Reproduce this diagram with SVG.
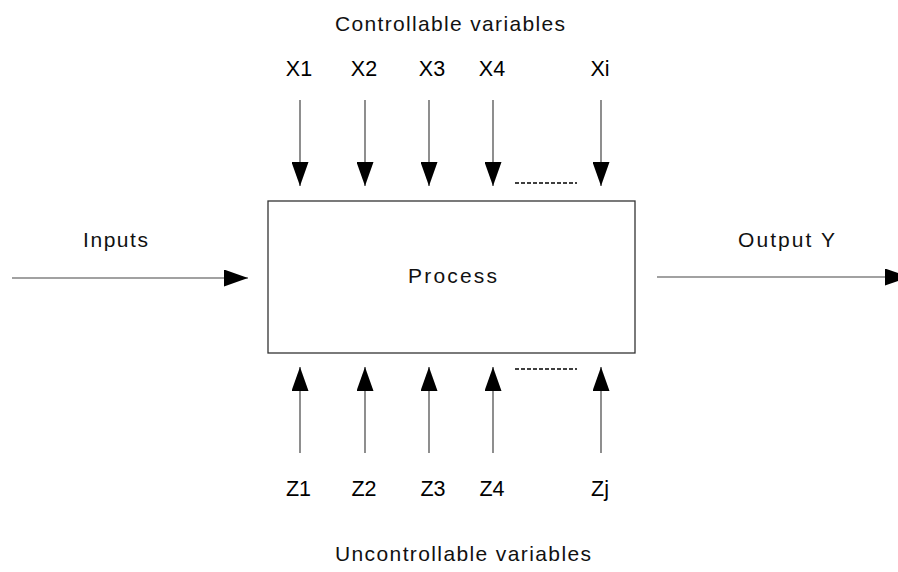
<svg xmlns="http://www.w3.org/2000/svg" width="898" height="572" viewBox="0 0 898 572">
  <style>
    .bg { fill: #ffffff; }
    .box { fill: #ffffff; stroke: #333333; stroke-width: 1.3; }
    .wire { stroke: #444444; stroke-width: 1.2; fill: none; }
    .dots { stroke: #000000; stroke-width: 1.5; stroke-dasharray: 4 2; fill: none; }
    .lbl { font-family: "Liberation Sans", Arial, sans-serif; font-size: 21.5px; fill: #000000; }
    .soft { font-family: "Liberation Sans", Arial, sans-serif; font-size: 21px; fill: #111111; }
    .mid { text-anchor: middle; }
  </style>
  <defs>
    <marker id="head" markerUnits="userSpaceOnUse" markerWidth="25" markerHeight="17" refX="24" refY="8.5" orient="auto" viewBox="0 0 25 17">
      <path d="M0,0 L24,8.5 L0,17 Z" fill="#000000"/>
    </marker>
  </defs>
  <rect class="bg" x="0" y="0" width="898" height="572"/>

  <!-- process block -->
  <g id="process">
    <rect class="box" x="268" y="201" width="367" height="152"/>
    <text class="soft" x="408" y="283" textLength="89" lengthAdjust="spacing">Process</text>
  </g>

  <g id="controllable">
    <text class="soft" x="335" y="31" textLength="230" lengthAdjust="spacing">Controllable variables</text>
    <text class="lbl mid" x="299" y="76">X1</text>
    <text class="lbl mid" x="364" y="76">X2</text>
    <text class="lbl mid" x="432" y="76">X3</text>
    <text class="lbl mid" x="492" y="76">X4</text>
    <text class="lbl mid" x="600" y="76">Xi</text>
  </g>

  <g id="uncontrollable">
    <text class="lbl mid" x="298.5" y="496">Z1</text>
    <text class="lbl mid" x="364" y="496">Z2</text>
    <text class="lbl mid" x="433" y="496">Z3</text>
    <text class="lbl mid" x="492" y="496">Z4</text>
    <text class="lbl mid" x="600" y="496">Zj</text>
    <text class="soft" x="335" y="561" textLength="256" lengthAdjust="spacing">Uncontrollable variables</text>
  </g>

  <g id="inputs">
    <text class="soft" x="83" y="247" textLength="65" lengthAdjust="spacing">Inputs</text>
  </g>

  <g id="output">
    <text class="soft" x="738" y="247" textLength="97" lengthAdjust="spacing">Output Y</text>
  </g>

  <!-- connectors -->
  <g id="connectors">
    <line class="wire" x1="12" y1="278" x2="248" y2="278" marker-end="url(#head)"/>
    <line class="wire" x1="657" y1="277" x2="909" y2="277" marker-end="url(#head)"/>

    <line class="wire" x1="300" y1="100" x2="300" y2="186" marker-end="url(#head)"/>
    <line class="wire" x1="365" y1="100" x2="365" y2="186" marker-end="url(#head)"/>
    <line class="wire" x1="429" y1="100" x2="429" y2="186" marker-end="url(#head)"/>
    <line class="wire" x1="493" y1="100" x2="493" y2="186" marker-end="url(#head)"/>
    <line class="wire" x1="601" y1="100" x2="601" y2="186" marker-end="url(#head)"/>
    <line class="dots" x1="515" y1="183" x2="577" y2="183"/>

    <line class="wire" x1="300" y1="453" x2="300" y2="367" marker-end="url(#head)"/>
    <line class="wire" x1="365" y1="453" x2="365" y2="367" marker-end="url(#head)"/>
    <line class="wire" x1="429" y1="453" x2="429" y2="367" marker-end="url(#head)"/>
    <line class="wire" x1="493" y1="453" x2="493" y2="367" marker-end="url(#head)"/>
    <line class="wire" x1="601" y1="453" x2="601" y2="367" marker-end="url(#head)"/>
    <line class="dots" x1="515" y1="369" x2="577" y2="369"/>
  </g>
</svg>
